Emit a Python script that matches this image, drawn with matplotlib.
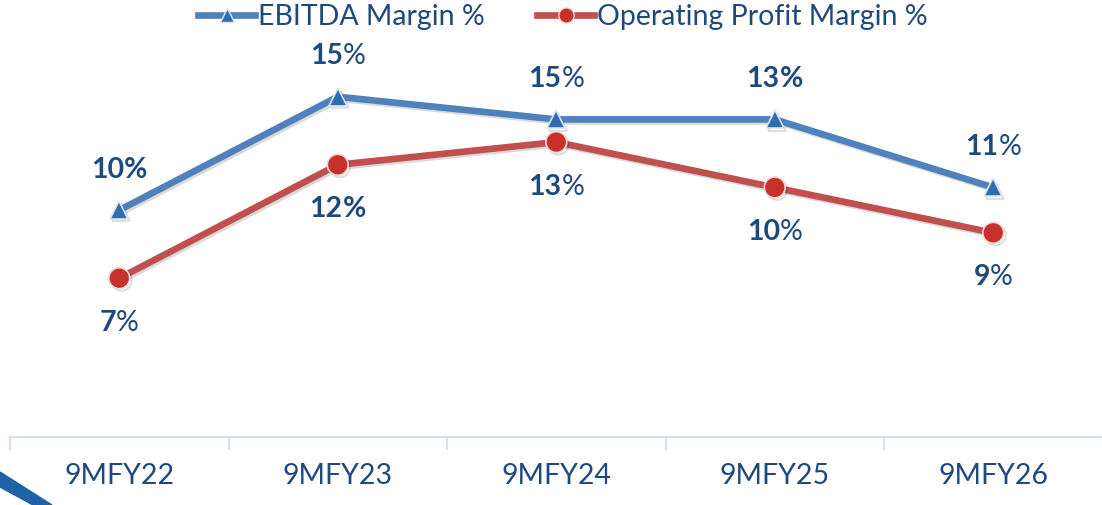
import matplotlib
matplotlib.use("Agg")
import matplotlib.pyplot as plt
from matplotlib.offsetbox import TextArea, HPacker, AnnotationBbox
from matplotlib.lines import Line2D
from matplotlib.patches import Polygon
import matplotlib.patheffects as pe

categories = ["9MFY22", "9MFY23", "9MFY24", "9MFY25", "9MFY26"]
ebitda = [10, 15, 14, 14, 11]
op_margin = [7, 12, 13, 11, 9]
ebitda_labels = ["10", "15", "15", "13", "11"]
ebitda_pct_bold = [True, False, False, True, False]
op_labels = ["7", "12", "13", "10", "9"]
op_pct_bold = [False, True, False, False, False]

BLUE = "#4F81BD"
RED = "#C0504D"
TXT = "#1F497D"
AXC = "#D6E0EE"
FONT = "Lato"

W, H = 1102, 505
fig = plt.figure(figsize=(W / 100, H / 100), dpi=100)
ax = fig.add_axes([10 / W, (H - 437) / H, 1092.5 / W, 397 / H])
x = list(range(len(categories)))

shadow = [pe.SimpleLineShadow(offset=(1.5, -1.5), alpha=0.15), pe.Normal()]
ax.plot(x, ebitda, color=BLUE, lw=4.8, marker="^", ms=13, mfc="#2E6DB4",
        mec="#DDE6F2", mew=1.2, solid_capstyle="round", zorder=3,
        path_effects=shadow)
ax.plot(x, op_margin, color=RED, lw=4.8, marker="o", ms=15, mfc="#C8302C",
        mec="#F0D8D6", mew=1.2, solid_capstyle="round", zorder=3,
        path_effects=shadow)

ax.set_xlim(-0.5, len(categories) - 0.5)
ax.set_ylim(0, 17.5)
for s in ["top", "right", "left"]:
    ax.spines[s].set_visible(False)
ax.spines["bottom"].set_color(AXC)
ax.spines["bottom"].set_linewidth(1.5)
ax.set_yticks([])
ax.set_xticks([i - 0.5 for i in range(len(categories) + 1)], minor=False)
ax.set_xticklabels([])
ax.tick_params(axis="x", which="major", length=9, width=1.5, color=AXC)
ax.set_xticks(x, minor=True)
ax.set_xticklabels(categories, minor=True)
ax.tick_params(axis="x", which="minor", length=0, pad=19, labelsize=20.5,
               labelcolor=TXT)
for lab in ax.get_xticklabels(minor=True):
    lab.set_fontfamily(FONT)


def add_label(xi, yi, num, pct_bold, dy):
    t1 = TextArea(num, textprops=dict(color=TXT, fontsize=20.5, fontweight="bold",
                                      fontfamily=FONT))
    t2 = TextArea("%", textprops=dict(color=TXT, fontsize=20.5,
                                      fontweight="bold" if pct_bold else "normal",
                                      fontfamily=FONT))
    box = HPacker(children=[t1, t2], align="baseline", pad=0, sep=0)
    ab = AnnotationBbox(box, (xi, yi), xybox=(0, dy), xycoords="data",
                        boxcoords="offset points", frameon=False,
                        box_alignment=(0.5, 0.5), zorder=5)
    ax.add_artist(ab)


for i in x:
    add_label(i, ebitda[i], ebitda_labels[i], ebitda_pct_bold[i], 29)
    add_label(i, op_margin[i], op_labels[i], op_pct_bold[i], -32)

handles = [
    Line2D([], [], color=BLUE, lw=4.8, marker="^", ms=10, mfc="#2E6DB4",
           mec="#DDE6F2"),
    Line2D([], [], color=RED, lw=4.8, marker="o", ms=11, mfc="#C8302C",
           mec="#F0D8D6"),
]
fig.legend(handles, ["EBITDA Margin %", "Operating Profit Margin %"],
           loc="center", bbox_to_anchor=(563 / W, (H - 17) / H), ncol=2,
           frameon=False, prop=dict(family=FONT, size=20.5),
           labelcolor=TXT, handlelength=2.0, handletextpad=0.1,
           columnspacing=1.85)

# partial logo stripe in the lower-left corner
pts = [(0, 472), (0, 487), (33, 505), (52, 505)]
fig.patches.append(Polygon([(px / W, (H - py) / H) for px, py in pts],
                           closed=True, transform=fig.transFigure,
                           color="#1E63A8", zorder=0))

fig.savefig("out.png", dpi=100)
